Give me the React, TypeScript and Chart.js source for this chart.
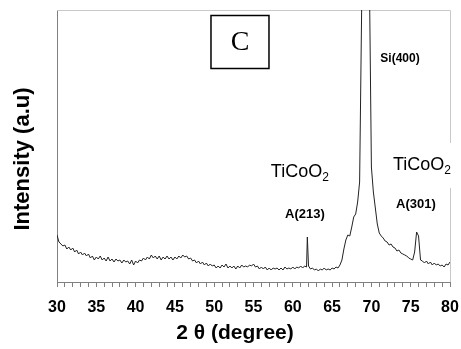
import { useEffect, useRef } from "react";
import { Chart, registerables } from "chart.js";

Chart.register(...registerables);

// ---- data ----
const twoTheta: number[] = [
  30, 30.25, 30.5, 30.75, 31, 31.25, 31.5, 31.75,
  32, 32.25, 32.5, 32.75, 33, 33.25, 33.5, 33.75,
  34, 34.25, 34.5, 34.75, 35, 35.25, 35.5, 35.75,
  36, 36.25, 36.5, 36.75, 37, 37.25, 37.5, 37.75,
  38, 38.25, 38.5, 38.75, 39, 39.25, 39.5, 39.75,
  40, 40.25, 40.5, 40.75, 41, 41.25, 41.5, 41.75,
  42, 42.25, 42.5, 42.75, 43, 43.25, 43.5, 43.75,
  44, 44.25, 44.5, 44.75, 45, 45.25, 45.5, 45.75,
  46, 46.25, 46.5, 46.75, 47, 47.25, 47.5, 47.75,
  48, 48.25, 48.5, 48.75, 49, 49.25, 49.5, 49.75,
  50, 50.25, 50.5, 50.75, 51, 51.25, 51.5, 51.75,
  52, 52.25, 52.5, 52.75, 53, 53.25, 53.5, 53.75,
  54, 54.25, 54.5, 54.75, 55, 55.25, 55.5, 55.75,
  56, 56.25, 56.5, 56.75, 57, 57.25, 57.5, 57.75,
  58, 58.25, 58.5, 58.75, 59, 59.25, 59.5, 59.75,
  60, 60.25, 60.5, 60.75, 61, 61.25, 61.5, 61.75, 61.85,
  62, 62.25, 62.5, 62.75, 63, 63.25, 63.5, 63.75,
  64, 64.25, 64.5, 64.75, 65, 65.25, 65.5, 65.75,
  66, 66.25, 66.5, 66.75, 67, 67.25, 67.5, 67.75,
  68, 68.25, 68.5, 68.8, 69.25, 69.75,
  70, 70.25, 70.5, 70.75, 71, 71.25, 71.5, 71.75,
  72, 72.25, 72.5, 72.75, 73, 73.25, 73.5, 73.75,
  74, 74.25, 74.5, 74.75, 75, 75.25, 75.5, 75.75,
  76, 76.25, 76.5, 76.75, 77, 77.25, 77.5, 77.75,
  78, 78.25, 78.5, 78.75, 79, 79.25, 79.5, 79.75,
  80,
];

const intensity: number[] = [
  47, 40, 38, 36, 37, 33, 35, 32,
  34, 30, 32, 28, 30, 27, 29, 26,
  28, 24, 26, 22, 25, 23, 26, 22,
  24, 21, 25, 21, 23, 20, 23, 21,
  22, 19, 22, 20, 21, 18, 22, 17,
  21, 19, 22, 21, 24, 22, 25, 23,
  27, 24, 26, 23, 26, 22, 25, 23,
  26, 23, 25, 22, 25, 23, 26, 24,
  27, 25, 26, 23, 24, 21, 22, 19,
  21, 18, 20, 17, 19, 16, 18, 16,
  17, 14, 16, 14, 17, 15, 18, 14,
  16, 14, 16, 13, 16, 14, 17, 15,
  16, 15, 17, 16, 18, 15, 16, 13,
  15, 13, 15, 12, 14, 12, 14, 13,
  14, 12, 14, 12, 15, 13, 14, 13,
  15, 13, 15, 14, 16, 14, 16, 15, 45,
  16, 13, 14, 12, 13, 11, 13, 12,
  14, 12, 13, 12, 14, 13, 15, 14,
  17, 22, 33, 42, 47, 46, 55, 65,
  68, 80, 100, 300, 600, 300,
  115, 90, 74, 58, 49, 46, 44, 41,
  40, 37, 38, 35, 34, 31, 32, 29,
  28, 27, 26, 24, 23, 22, 30, 50,
  46, 22, 21, 19, 21, 18, 20, 17,
  19, 17, 18, 16, 17, 15, 18, 17,
  20,
];

const xMin = 30;
const xMax = 80;
const xMajorStep = 5;
const yMax = 272;

const xTitle = "2 θ (degree)";
const yTitle = "Intensity (a.u)";

const panelLabel = "C";
const panelLabelX = 53.28;
const panelLabelY = 240;

const peakLabels = ["Si(400)", "A(213)", "A(301)"];
const peakLabelX = [73.64, 61.55, 75.67];
const peakLabelY = [223, 68, 78];

const phaseMain = "TiCoO";
const phaseSub = "2";
const phaseLabelX = [60.9, 76.44];
const phaseLabelY = [105, 112];

// ---- fonts ----
const SANS = '"Liberation Sans", Arial, sans-serif';
const SERIF = '"Liberation Serif", "Times New Roman", serif';

const decorPlugin = {
  id: "decor",
  beforeDatasetsDraw(chart: any) {
    const { ctx, chartArea } = chart;
    const { left, right, top, bottom } = chartArea;
    const x = chart.scales.x;
    const y = chart.scales.y;
    ctx.save();
    ctx.strokeStyle = "#c8c8c8";
    ctx.lineWidth = 1;
    ctx.beginPath();
    ctx.moveTo(left, Math.round(top) + 0.5);
    ctx.lineTo(Math.round(right) + 0.5, Math.round(top) + 0.5);
    ctx.lineTo(Math.round(right) + 0.5, bottom);
    ctx.stroke();
    ctx.fillStyle = "#ffffff";
    const rx = x.getPixelForValue(phaseLabelX[1]);
    const ry = y.getPixelForValue(phaseLabelY[1]);
    ctx.fillRect(rx - 34, ry - 27, 70, 45);
    ctx.restore();
  },
  afterDatasetsDraw(chart: any) {
    const { ctx } = chart;
    const x = chart.scales.x;
    const y = chart.scales.y;
    ctx.save();

    const cx = x.getPixelForValue(panelLabelX);
    const cy = y.getPixelForValue(panelLabelY);
    ctx.fillStyle = "#fff";
    ctx.fillRect(cx - 29, cy - 26.5, 58, 53);
    ctx.strokeStyle = "#000";
    ctx.lineWidth = 1.5;
    ctx.strokeRect(cx - 29, cy - 26.5, 58, 53);
    ctx.fillStyle = "#000";
    ctx.font = `28px ${SERIF}`;
    ctx.textAlign = "center";
    ctx.textBaseline = "middle";
    ctx.fillText(panelLabel, cx, cy + 1);

    const sizes = [12, 13, 13];
    peakLabels.forEach((t, i) => {
      ctx.font = `bold ${sizes[i]}px ${SANS}`;
      ctx.textAlign = "center";
      ctx.textBaseline = "middle";
      ctx.fillText(t, x.getPixelForValue(peakLabelX[i]), y.getPixelForValue(peakLabelY[i]));
    });

    phaseLabelX.forEach((vx, i) => {
      const px = x.getPixelForValue(vx);
      const py = y.getPixelForValue(phaseLabelY[i]);
      ctx.font = `18px ${SANS}`;
      const w1 = ctx.measureText(phaseMain).width;
      ctx.font = `12px ${SANS}`;
      const w2 = ctx.measureText(phaseSub).width;
      const start = px - (w1 + w2) / 2;
      ctx.textAlign = "left";
      ctx.textBaseline = "alphabetic";
      ctx.font = `18px ${SANS}`;
      ctx.fillText(phaseMain, start, py);
      ctx.font = `12px ${SANS}`;
      ctx.fillText(phaseSub, start + w1, py + 4);
    });
    ctx.restore();
  },
  afterDraw(chart: any) {
    const { ctx, chartArea, height } = chart;
    ctx.save();
    ctx.fillStyle = "#000";
    ctx.textAlign = "center";
    ctx.textBaseline = "middle";
    ctx.font = `bold 21px ${SANS}`;
    ctx.fillText(xTitle, chartArea.left + 178, height - 16);
    ctx.translate(23, (chartArea.top + chartArea.bottom) / 2 + 13);
    ctx.rotate(-Math.PI / 2);
    ctx.font = `bold 22px ${SANS}`;
    ctx.fillText(yTitle, 0, 0);
    ctx.restore();
  },
};

export default function App() {
  const canvasRef = useRef<HTMLCanvasElement | null>(null);

  useEffect(() => {
    const canvas = canvasRef.current;
    if (!canvas) return;
    const points = twoTheta.map((t, i) => ({ x: t, y: intensity[i] }));
    const chart = new Chart(canvas, {
      type: "line",
      data: {
        datasets: [
          {
            data: points,
            borderColor: "#222222",
            borderWidth: 1,
            pointRadius: 0,
            tension: 0,
            fill: false,
          },
        ],
      },
      options: {
        responsive: false,
        animation: false,
        events: [],
        layout: { padding: { top: 10, right: 11, left: 0, bottom: 0 } },
        plugins: {
          legend: { display: false },
          tooltip: { enabled: false },
          title: { display: false },
        },
        scales: {
          x: {
            type: "linear",
            min: xMin,
            max: xMax,
            afterFit: (s: any) => {
              s.height = 67;
              s.paddingLeft = 0;
              s.paddingRight = 0;
            },
            border: { display: true, color: "#808080", width: 1 },
            grid: {
              display: true,
              drawOnChartArea: false,
              drawTicks: true,
              tickLength: 5,
              tickColor: "#808080",
              tickWidth: 1,
            },
            ticks: {
              stepSize: 1,
              autoSkip: false,
              maxRotation: 0,
              padding: 11,
              color: "#000",
              font: { family: SANS, size: 16, weight: "bold" },
              callback: (v: any) => (Number(v) % xMajorStep === 0 ? String(v) : ""),
            },
          },
          y: {
            type: "linear",
            min: 0,
            max: yMax,
            afterFit: (s: any) => {
              s.width = 57;
            },
            border: { display: true, color: "#808080", width: 1 },
            grid: { display: false },
            ticks: { display: false },
          },
        },
      },
      plugins: [decorPlugin],
    } as any);
    return () => chart.destroy();
  }, []);

  return (
    <div style={{ position: "fixed", left: 0, top: 0, width: 461, height: 349, background: "#fff" }}>
      <canvas ref={canvasRef} width={461} height={349} style={{ display: "block" }} />
    </div>
  );
}
